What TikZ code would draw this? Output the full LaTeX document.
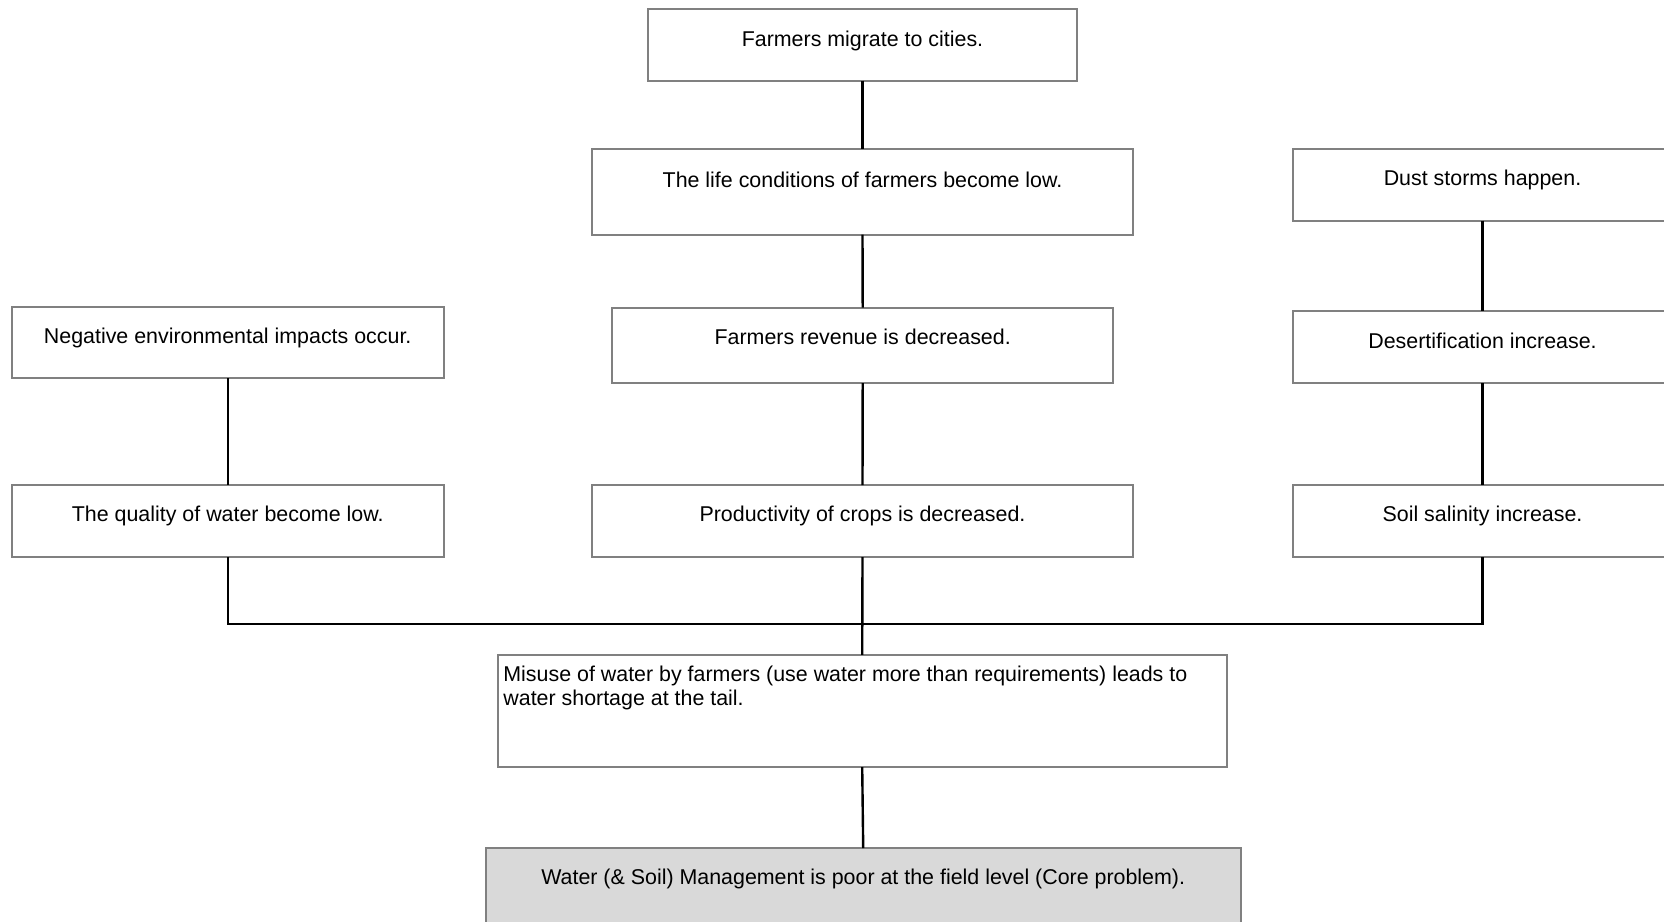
\documentclass[tikz,border=0pt]{standalone}
\usepackage{fontspec}
\setmainfont{Liberation Sans}
\definecolor{boxline}{RGB}{128,128,128}
\definecolor{corefill}{RGB}{217,217,217}
\begin{document}
\begin{tikzpicture}[x=0.5pt,y=-0.5pt,
  box/.style={draw=boxline, line width=1pt, rectangle, inner sep=0pt, outer sep=0pt, fill=white},
  txt/.style={font=\fontsize{10.7}{12.2}\selectfont, inner sep=0pt},
  conn/.style={draw=black, line width=1.2pt}]
\useasboundingbox (0,0) rectangle (1664,921);
\clip (0,0) rectangle (1664,921);
\fill[white] (0,0) rectangle (1664,921);
% boxes
\node[box, minimum width=214.5pt, minimum height=36.1pt] (mig) at (862.5,44.6) {};
\node[box, minimum width=270.5pt, minimum height=43pt] (life) at (862.5,191.5) {};
\node[box, minimum width=190pt, minimum height=36pt] (dust) at (1482.5,184.7) {};
\node[box, minimum width=216pt, minimum height=35.5pt] (neg) at (227.7,342.5) {};
\node[box, minimum width=250.5pt, minimum height=37.7pt] (rev) at (862.7,345.4) {};
\node[box, minimum width=190pt, minimum height=36pt] (des) at (1482.5,347) {};
\node[box, minimum width=216pt, minimum height=36pt] (qual) at (227.7,521) {};
\node[box, minimum width=270.5pt, minimum height=36pt] (prod) at (862.5,521) {};
\node[box, minimum width=190pt, minimum height=36pt] (soil) at (1482.5,521) {};
\node[box, minimum width=364.5pt, minimum height=56.2pt] (mis) at (862.2,711) {};
\node[box, fill=corefill, minimum width=377.3pt, minimum height=56pt] (core) at (863.2,904) {};
% texts
\node[txt] (tmig) at ([yshift=-16.3pt]mig.north) {Farmers migrate to cities.};
\node[txt] (tlife) at ([yshift=-15.5pt]life.north) {The life conditions of farmers become low.};
\node[txt] (tdust) at ([yshift=-15.5pt]dust.north) {Dust storms happen.};
\node[txt] (tneg) at ([yshift=-15.5pt]neg.north) {Negative environmental impacts occur.};
\node[txt] (trev) at ([yshift=-14.5pt]rev.north) {Farmers revenue is decreased.};
\node[txt] (tdes) at ([yshift=-15pt]des.north) {Desertification increase.};
\node[txt] (tqual) at ([yshift=-15.5pt]qual.north) {The quality of water become low.};
\node[txt] (tprod) at ([yshift=-15.5pt]prod.north) {Productivity of crops is decreased.};
\node[txt] (tsoil) at ([yshift=-15.5pt]soil.north) {Soil salinity increase.};
\node[txt, anchor=west, align=left] (tmis) at (503,688) {Misuse of water by farmers (use water more than requirements) leads to\\water shortage at the tail.};
\node[txt] (tcore) at ([yshift=-15.5pt]core.north) {Water (\& Soil) Management is poor at the field level (Core problem).};
% connectors
\coordinate (bus) at (862.5,624);
\draw[conn] (mig.south) -- (life.north);
\draw[conn] (life.south) -- (rev.north);
\draw[conn] (rev.south) -- (prod.north);
\draw[conn] (prod.south) -- (mis.north);
\draw[conn] (mis.south) -- (core.north);
\draw[conn] (dust.south) -- (des.north);
\draw[conn] (des.south) -- (soil.north);
\draw[conn] (neg.south) -- (qual.north);
\draw[conn] (qual.south) |- (bus) -| (soil.south);
\end{tikzpicture}
\end{document}
